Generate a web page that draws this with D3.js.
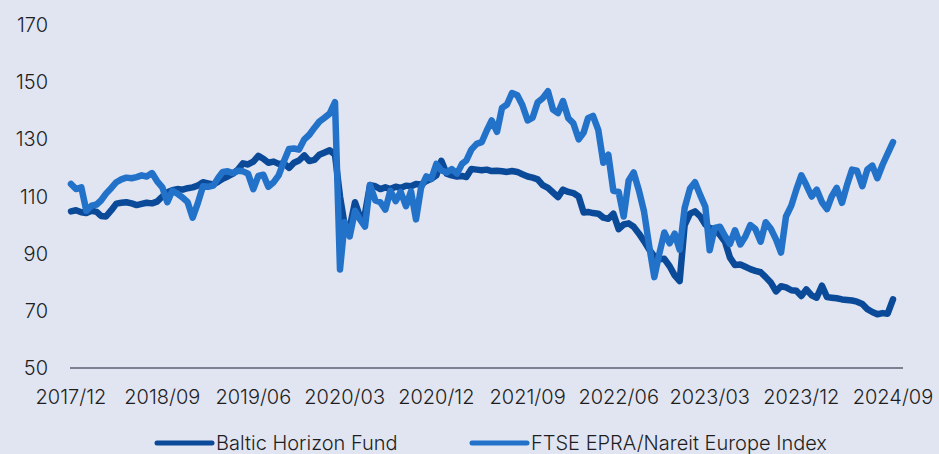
<!DOCTYPE html>
<html>
<head>
<meta charset="utf-8">
<script src="https://cdn.jsdelivr.net/npm/d3@7"></script>
<style>
  body { margin: 0; background: #e1e5f2; }
  svg { display: block; }
  text { font-family: Inter, "Noto Sans", sans-serif; fill: #1e1e1e; font-weight: 300; }
</style>
</head>
<body>
<svg id="chart" width="939" height="454"></svg>
<script>
// semimonthly observation dates
var dates = [
  "2017-12-01","2017-12-16",
  "2018-01-01","2018-01-16","2018-02-01","2018-02-16","2018-03-01","2018-03-16","2018-04-01","2018-04-16","2018-05-01","2018-05-16","2018-06-01","2018-06-16",
  "2018-07-01","2018-07-16","2018-08-01","2018-08-16","2018-09-01","2018-09-16","2018-10-01","2018-10-16","2018-11-01","2018-11-16","2018-12-01","2018-12-16",
  "2019-01-01","2019-01-16","2019-02-01","2019-02-16","2019-03-01","2019-03-16","2019-04-01","2019-04-16","2019-05-01","2019-05-16","2019-06-01","2019-06-16",
  "2019-07-01","2019-07-16","2019-08-01","2019-08-16","2019-09-01","2019-09-16","2019-10-01","2019-10-16","2019-11-01","2019-11-16","2019-12-01","2019-12-16",
  "2020-01-01","2020-01-16","2020-02-01","2020-02-16","2020-03-01","2020-03-16","2020-04-01","2020-04-16","2020-05-01","2020-05-16","2020-06-01","2020-06-16",
  "2020-07-01","2020-07-16","2020-08-01","2020-08-16","2020-09-01","2020-09-16","2020-10-01","2020-10-16","2020-11-01","2020-11-16","2020-12-01","2020-12-16",
  "2021-01-01","2021-01-16","2021-02-01","2021-02-16","2021-03-01","2021-03-16","2021-04-01","2021-04-16","2021-05-01","2021-05-16","2021-06-01","2021-06-16",
  "2021-07-01","2021-07-16","2021-08-01","2021-08-16","2021-09-01","2021-09-16","2021-10-01","2021-10-16","2021-11-01","2021-11-16","2021-12-01","2021-12-16",
  "2022-01-01","2022-01-16","2022-02-01","2022-02-16","2022-03-01","2022-03-16","2022-04-01","2022-04-16","2022-05-01","2022-05-16","2022-06-01","2022-06-16",
  "2022-07-01","2022-07-16","2022-08-01","2022-08-16","2022-09-01","2022-09-16","2022-10-01","2022-10-16","2022-11-01","2022-11-16","2022-12-01","2022-12-16",
  "2023-01-01","2023-01-16","2023-02-01","2023-02-16","2023-03-01","2023-03-16","2023-04-01","2023-04-16","2023-05-01","2023-05-16","2023-06-01","2023-06-16",
  "2023-07-01","2023-07-16","2023-08-01","2023-08-16","2023-09-01","2023-09-16","2023-10-01","2023-10-16","2023-11-01","2023-11-16","2023-12-01","2023-12-16",
  "2024-01-01","2024-01-16","2024-02-01","2024-02-16","2024-03-01","2024-03-16","2024-04-01","2024-04-16","2024-05-01","2024-05-16","2024-06-01","2024-06-16",
  "2024-07-01","2024-07-16","2024-08-01","2024-08-16","2024-09-01"
];

var baltic = [
  104.8,105.2,104.5,104.2,105,104.6,103.2,103,105.2,107.5,107.8,108,107.6,107,107.4,107.8,
  107.6,108.2,110,111.5,112.2,112.6,112.4,112.9,113.2,113.8,115,114.6,114.2,115.2,116.2,117,
  118,119.4,121.6,121.2,122.2,124.2,123.2,121.8,122.2,121.4,121.6,120,121.8,122.6,124.4,122.4,
  122.8,124.6,125.4,126.2,124.6,110,100,99,108,103,104,114,113.6,112.6,113.2,112.6,
  113.4,113,113.8,113.6,114.4,114.2,115.4,116.2,117.4,122.5,118,117.4,117,117.2,116.8,119.6,
  119.4,119.2,119.4,118.9,119,118.8,118.6,118.9,118.6,117.8,117,116.6,116,114,113,111.4,
  109.8,112.4,111.6,111.2,110,104.4,104.6,104.2,104,102.6,102.2,104,98.6,100.2,100.6,99.4,
  97,94.4,91.4,89,88,88.2,85.6,82.4,80.4,100,104,104.8,103,100.2,99,98.5,
  96.5,94.2,88.6,86,86.2,85.4,84.6,84,83.5,81.8,79.8,76.8,78.6,78.2,77.2,77,
  75.2,77.5,75.4,74.6,78.8,74.8,74.6,74.4,74,73.8,73.6,73.2,72.4,70.6,69.6,68.8,
  69.2,69,74
];

var ftse = [
  114.4,112.6,113.2,105,106.8,107.2,108.6,111,113,115,116,116.6,116.4,116.8,117.4,117,
  118.2,115.4,113.2,108,112,111,109.6,108,102.6,107.5,113.6,113.4,113.8,116.6,118.6,118.8,
  118.2,119,118.8,118,112.6,117.2,117.6,113.4,115,117.4,122.4,126.6,126.8,126.4,130,131.6,
  134,136.2,137.6,139,143,84.5,101,96,105,102,99.5,114,108.6,108,105.4,112,
  108.4,111.6,106.6,111.8,102,113,117,116.2,121.4,119.2,118.4,119.6,118,121.4,122.6,126.4,
  128.4,129,133,136.6,132.6,141,142.2,146.2,145.4,142,136.6,137.6,143,144.4,146.8,140.4,
  139.2,143.4,137.4,135.6,130,132.4,137.4,138.2,133.2,121.8,124.6,112,111.6,103,115.6,118.4,
  112,104.8,92.4,81.8,90,97.4,93.6,97,91.4,106,112.8,115,110.4,106.4,91.2,99,
  99.4,96.2,93.4,98.2,93.2,96,100,98.6,94.2,101,98.6,95,90.4,103,106.8,112.4,
  117.4,114,110,112.4,108,105.6,110,113,107.8,114,119.4,119,113.6,119.4,120.8,116.4,
  121.2,125,129
];

var seriesNames = ["Baltic Horizon Fund", "FTSE EPRA/Nareit Europe Index"];
var seriesColors = ["#0b4a98", "#2372c9"];
var yTicks = [50, 70, 90, 110, 130, 150, 170];
var xTickLabels = ["2017/12","2018/09","2019/06","2020/03","2020/12","2021/09","2022/06","2023/03","2023/12","2024/09"];

var parse = d3.timeParse("%Y-%m-%d");
var parseTick = d3.timeParse("%Y/%m");

var svg = d3.select("#chart");

var x = d3.scaleTime()
  .domain([parse(dates[0]), parse(dates[dates.length - 1])])
  .range([71, 893]);
var y = d3.scaleLinear().domain([50, 170]).range([368, 25]);

// y labels
svg.append("g").selectAll("text")
  .data(yTicks)
  .enter().append("text")
  .attr("x", 48)
  .attr("y", d => y(d))
  .attr("text-anchor", "end")
  .attr("dominant-baseline", "central")
  .style("font-size", "20px")
  .text(d => d);

// x axis line
svg.append("line")
  .attr("x1", 70).attr("x2", 903)
  .attr("y1", y(50)).attr("y2", y(50))
  .attr("stroke", "#5a5e72")
  .attr("stroke-width", 1.3);

svg.append("g").selectAll("text")
  .data(xTickLabels)
  .enter().append("text")
  .attr("x", d => x(parseTick(d)))
  .attr("y", 397)
  .attr("text-anchor", "middle")
  .attr("dominant-baseline", "central")
  .style("font-size", "20px")
  .text(d => d);

var line = d3.line()
  .x((d, i) => x(parse(dates[i])))
  .y(d => y(d))
  .curve(d3.curveLinear);

[baltic, ftse].forEach(function (s, i) {
  svg.append("path")
    .datum(s)
    .attr("d", line)
    .attr("fill", "none")
    .attr("stroke", seriesColors[i])
    .attr("stroke-width", 6.5)
    .attr("stroke-linejoin", "round")
    .attr("stroke-linecap", "round");
});

// legend
var legendX = [157, 472];
var lg = svg.append("g").selectAll("g")
  .data(seriesNames)
  .enter().append("g")
  .attr("transform", (d, i) => "translate(" + legendX[i] + ",443)");
lg.append("line")
  .attr("x1", 0).attr("x2", 55)
  .attr("stroke", (d, i) => seriesColors[i])
  .attr("stroke-width", 5)
  .attr("stroke-linecap", "round");
lg.append("text")
  .attr("x", 59)
  .attr("dominant-baseline", "central")
  .style("font-size", "20px")
  .text(d => d);
</script>
</body>
</html>
